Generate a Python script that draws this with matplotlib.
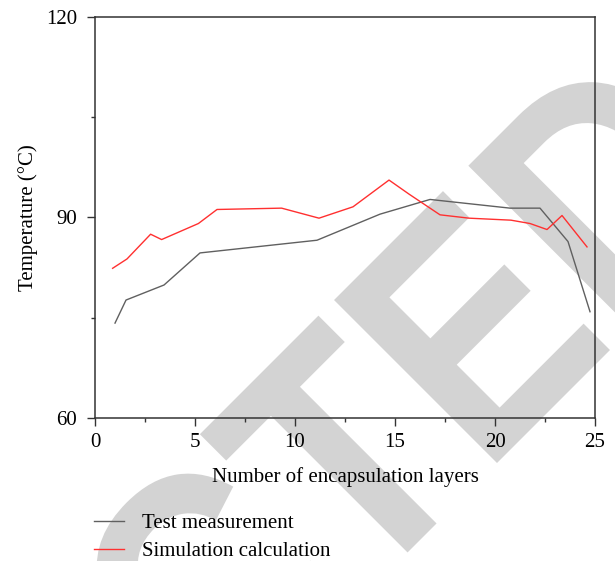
import matplotlib.pyplot as plt
from matplotlib.ticker import MultipleLocator
from matplotlib.textpath import TextPath
from matplotlib.font_manager import FontProperties
from matplotlib.patches import PathPatch
from matplotlib.transforms import Affine2D, IdentityTransform

# encapsulation layers vs. temperature
test_layers = [1.0, 1.55, 3.45, 5.25, 11.1, 14.25, 16.75, 20.75, 22.25, 23.65, 24.75]
test_temp = [74.2, 77.65, 79.9, 84.7, 86.6, 90.5, 92.7, 91.4, 91.4, 86.4, 75.9]

sim_layers = [0.88, 1.6, 2.78, 3.33, 5.17, 6.1, 9.33, 11.2, 12.9, 14.7, 15.7,
              17.25, 18.7, 20.8, 21.75, 22.6, 23.35, 24.6]
sim_temp = [82.4, 83.8, 87.5, 86.7, 89.1, 91.2, 91.4, 89.9, 91.6, 95.6, 93.5,
            90.4, 89.9, 89.6, 89.1, 88.2, 90.3, 85.6]

plt.rcParams['font.family'] = ['Liberation Serif', 'DejaVu Serif']
fs = 15

fig = plt.figure(figsize=(6.15, 5.61), dpi=100)
ax = fig.add_axes([0.1545, 0.2549, 0.813, 0.7148])
ax.set_facecolor('none')

# big diagonal watermark, bold sans squeezed a bit, drawn in pixel space behind the axes
wm_font = FontProperties(family='Liberation Sans', weight='bold')
wm_size = 335
sx = 0.85
wm = TextPath((0, 0), "RETRACTED", size=wm_size, prop=wm_font)
# left ink edge of the second "E", used as the anchor point
e_left = (TextPath((0, 0), "RETRACTE", size=wm_size, prop=wm_font).get_extents().x1
          - TextPath((0, 0), "E", size=wm_size, prop=wm_font).get_extents().width)
wm_tr = (Affine2D().translate(-e_left, 0).scale(sx, 1).rotate_deg(45)
         .translate(497, 98))
fig.add_artist(PathPatch(wm_tr.transform_path(wm), transform=IdentityTransform(),
                         facecolor='#d3d3d3', edgecolor='none', zorder=-1))

ax.plot(test_layers, test_temp, color='#606060', lw=1.0, label='Test measurement')
ax.plot(sim_layers, sim_temp, color='#ff3030', lw=1.0, label='Simulation calculation')

ax.set_xlim(0, 25)
ax.set_ylim(60, 120)
ax.xaxis.set_major_locator(MultipleLocator(5))
ax.xaxis.set_minor_locator(MultipleLocator(2.5))
ax.yaxis.set_major_locator(MultipleLocator(30))
ax.yaxis.set_minor_locator(MultipleLocator(15))
ax.tick_params(which='major', direction='out', length=6, width=1, color='#333333',
               labelsize=fs, pad=5)
ax.tick_params(which='minor', direction='out', length=3, width=1, color='#333333')
ax.tick_params(axis='y', pad=7)
for s in ax.spines.values():
    s.set_color('#333333')
    s.set_linewidth(1.1)

ax.set_xlabel("Number of encapsulation layers", fontsize=fs, labelpad=11)
ax.set_ylabel("Temperature (°C)", fontsize=fs, labelpad=6)

ax.legend(loc='upper left', bbox_to_anchor=(0.153, 0.085), bbox_transform=fig.transFigure,
          frameon=False, fontsize=fs, handlelength=1.45, handletextpad=0.85,
          labelspacing=0.4, borderaxespad=0, borderpad=0)

fig.savefig('out.png', dpi=100)
